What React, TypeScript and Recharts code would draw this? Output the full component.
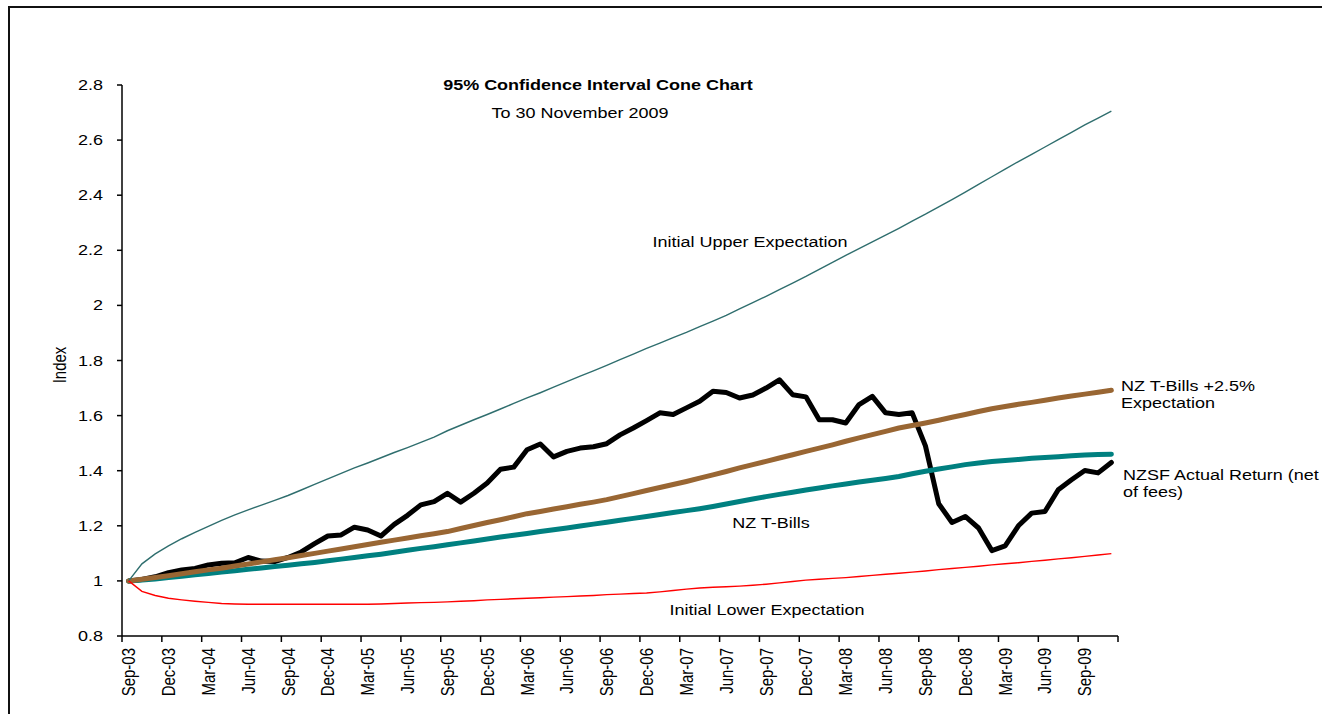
import { LineChart, Line, XAxis, YAxis } from "recharts";

const months = [
  "Sep-03", "Oct-03", "Nov-03", "Dec-03",
  "Jan-04", "Feb-04", "Mar-04", "Apr-04", "May-04", "Jun-04", "Jul-04", "Aug-04", "Sep-04", "Oct-04", "Nov-04", "Dec-04",
  "Jan-05", "Feb-05", "Mar-05", "Apr-05", "May-05", "Jun-05", "Jul-05", "Aug-05", "Sep-05", "Oct-05", "Nov-05", "Dec-05",
  "Jan-06", "Feb-06", "Mar-06", "Apr-06", "May-06", "Jun-06", "Jul-06", "Aug-06", "Sep-06", "Oct-06", "Nov-06", "Dec-06",
  "Jan-07", "Feb-07", "Mar-07", "Apr-07", "May-07", "Jun-07", "Jul-07", "Aug-07", "Sep-07", "Oct-07", "Nov-07", "Dec-07",
  "Jan-08", "Feb-08", "Mar-08", "Apr-08", "May-08", "Jun-08", "Jul-08", "Aug-08", "Sep-08", "Oct-08", "Nov-08", "Dec-08",
  "Jan-09", "Feb-09", "Mar-09", "Apr-09", "May-09", "Jun-09", "Jul-09", "Aug-09", "Sep-09", "Oct-09", "Nov-09",
];

// NZSF actual return (net of fees)
const actual = [
  1.0, 1.005, 1.015, 1.03, 1.04, 1.045, 1.058, 1.064, 1.066, 1.085,
  1.072, 1.07, 1.085, 1.105, 1.135, 1.163, 1.167, 1.195, 1.185, 1.163,
  1.205, 1.238, 1.276, 1.288, 1.318, 1.286, 1.318, 1.355, 1.405, 1.413,
  1.476, 1.497, 1.45, 1.47, 1.482, 1.487, 1.498, 1.53, 1.555, 1.582,
  1.61, 1.604, 1.628, 1.652, 1.688, 1.684, 1.664, 1.675, 1.7, 1.73,
  1.676, 1.668, 1.585, 1.585, 1.573, 1.64, 1.67, 1.61, 1.604, 1.61,
  1.49, 1.28, 1.212, 1.234, 1.192, 1.11, 1.127, 1.2, 1.246, 1.252,
  1.331, 1.367, 1.401, 1.392, 1.43,
];

// NZ T-Bills + 2.5%
const tbillsPlus = [
  1.0, 1.006, 1.012, 1.019, 1.026, 1.033, 1.04, 1.046, 1.054, 1.061,
  1.069, 1.077, 1.084, 1.092, 1.1, 1.108, 1.116, 1.124, 1.132, 1.14,
  1.148, 1.156, 1.164, 1.171, 1.179, 1.19, 1.201, 1.212, 1.222, 1.233,
  1.244, 1.252, 1.261, 1.269, 1.278, 1.286, 1.295, 1.306, 1.317, 1.328,
  1.339, 1.35, 1.361, 1.373, 1.385, 1.397, 1.41, 1.422, 1.434, 1.446,
  1.458, 1.47, 1.482, 1.494, 1.507, 1.519, 1.531, 1.543, 1.555, 1.564,
  1.573, 1.583, 1.594, 1.604, 1.615, 1.625, 1.633, 1.641, 1.648, 1.656,
  1.664, 1.671, 1.678, 1.685, 1.692,
];

// NZ T-Bills
const tbills = [
  1.0, 1.003, 1.007, 1.012, 1.017, 1.022, 1.027, 1.032, 1.037, 1.042,
  1.047, 1.052, 1.057, 1.062, 1.067, 1.073, 1.079, 1.085, 1.091, 1.097,
  1.104, 1.111, 1.118, 1.124, 1.131, 1.138, 1.145, 1.152, 1.159, 1.166,
  1.172, 1.179, 1.186, 1.192, 1.199, 1.206, 1.213, 1.22, 1.227, 1.234,
  1.241, 1.248, 1.255, 1.262, 1.27, 1.279, 1.288, 1.297, 1.306, 1.314,
  1.322, 1.33, 1.337, 1.345, 1.352, 1.359, 1.365, 1.372, 1.379, 1.389,
  1.398, 1.406, 1.414, 1.422, 1.428, 1.433, 1.437, 1.441, 1.445, 1.448,
  1.451, 1.454, 1.457, 1.459, 1.46,
];

// Initial upper expectation
const upper = [
  1.0, 1.062, 1.098, 1.127, 1.153, 1.176, 1.198, 1.22, 1.24, 1.258,
  1.275, 1.292, 1.31, 1.33, 1.35, 1.37, 1.39, 1.41, 1.428, 1.447,
  1.466, 1.484, 1.503, 1.522, 1.545, 1.565, 1.585, 1.604, 1.624, 1.644,
  1.664, 1.683, 1.703, 1.723, 1.743, 1.762, 1.782, 1.803, 1.823, 1.844,
  1.863, 1.883, 1.902, 1.923, 1.943, 1.964, 1.987, 2.01, 2.033, 2.057,
  2.081, 2.105, 2.131, 2.156, 2.182, 2.206, 2.231, 2.255, 2.28, 2.306,
  2.331, 2.358, 2.384, 2.411, 2.439, 2.467, 2.495, 2.522, 2.548, 2.575,
  2.602, 2.628, 2.655, 2.68, 2.705,
];

// Initial lower expectation
const lower = [
  1.0, 0.962, 0.947, 0.937, 0.931, 0.926, 0.922, 0.918, 0.916, 0.915,
  0.915, 0.915, 0.915, 0.915, 0.915, 0.915, 0.915, 0.915, 0.915, 0.916,
  0.918, 0.92, 0.921, 0.922, 0.924, 0.926, 0.928, 0.931, 0.933, 0.935,
  0.937, 0.939, 0.941, 0.943, 0.945, 0.947, 0.95, 0.952, 0.954, 0.956,
  0.96, 0.965, 0.97, 0.974, 0.977, 0.979, 0.981, 0.984, 0.988, 0.993,
  0.998, 1.003, 1.006, 1.009, 1.012, 1.016, 1.02, 1.024, 1.028, 1.032,
  1.036, 1.041, 1.045, 1.049, 1.053, 1.058, 1.062, 1.066, 1.071, 1.075,
  1.08, 1.084, 1.089, 1.094, 1.099,
];

const yTicks = [0.8, 1, 1.2, 1.4, 1.6, 1.8, 2, 2.2, 2.4, 2.6, 2.8];

const data = months.map((month, i) => ({
  month,
  actual: actual[i],
  tbillsPlus: tbillsPlus[i],
  tbills: tbills[i],
  upper: upper[i],
  lower: lower[i],
}));

const W = 1322;
const H = 714;
const PLOT = { left: 122, right: 1118, top: 85, bottom: 636 };
const Y_AXIS_W = 40;
const X_AXIS_H = 60;
const BAND = (PLOT.right - PLOT.left) / months.length;
const LAST_LABEL = months[Math.floor((months.length - 1) / 3) * 3];

const FONT = '"Liberation Sans", Arial, sans-serif';
const STRETCH = 1.2; // the source text is drawn a bit wide

function YTick({ x, y, payload }: any) {
  return (
    <text
      transform={`translate(${x},${y + 5}) scale(${STRETCH},1)`}
      textAnchor="end"
      fontSize={15}
      fontFamily={FONT}
      fill="#000"
    >
      {payload.value}
    </text>
  );
}

function XTick({ x, payload }: any) {
  const axisY = PLOT.bottom;
  const tx = x - BAND / 2;
  return (
    <g>
      <line x1={tx} x2={tx} y1={axisY} y2={axisY + 6} stroke="#000" strokeWidth={1.5} />
      {payload.value === LAST_LABEL && (
        <line x1={tx + BAND * 3} x2={tx + BAND * 3} y1={axisY} y2={axisY + 6} stroke="#000" strokeWidth={1.5} />
      )}
      <text
        transform={`translate(${x + 6.5},${axisY + 12}) scale(${STRETCH},1) rotate(-90)`}
        textAnchor="end"
        fontSize={15}
        fontFamily={FONT}
        fill="#000"
      >
        {payload.value}
      </text>
    </g>
  );
}

const notes = [
  { text: "95% Confidence Interval Cone Chart", x: 598, y: 90, anchor: "middle", bold: true },
  { text: "To 30 November 2009", x: 580, y: 118, anchor: "middle" },
  { text: "Initial Upper Expectation", x: 750, y: 247, anchor: "middle" },
  { text: "NZ T-Bills +2.5%", x: 1121, y: 391, anchor: "start" },
  { text: "Expectation", x: 1121, y: 408, anchor: "start" },
  { text: "NZSF Actual Return (net", x: 1123, y: 480, anchor: "start" },
  { text: "of fees)", x: 1123, y: 497, anchor: "start" },
  { text: "NZ T-Bills", x: 771, y: 528, anchor: "middle" },
  { text: "Initial Lower Expectation", x: 767, y: 615, anchor: "middle" },
];

export default function App() {
  return (
    <div style={{ position: "absolute", left: 0, top: 0, width: W, height: H, background: "#fff" }}>
      <div
        style={{
          position: "absolute",
          left: 8,
          top: 6,
          width: W - 8,
          height: H - 6,
          borderLeft: "2px solid #111",
          borderTop: "2px solid #111",
          boxSizing: "border-box",
        }}
      />
      <div style={{ position: "absolute", left: 0, top: 0 }}>
        <LineChart
          width={W}
          height={H}
          data={data}
          margin={{
            top: PLOT.top,
            right: W - PLOT.right,
            bottom: H - PLOT.bottom - X_AXIS_H,
            left: PLOT.left - Y_AXIS_W,
          }}
        >
          <XAxis
            dataKey="month"
            scale="band"
            interval={2}
            tickLine={false}
            tickSize={6}
            tickMargin={2}
            height={X_AXIS_H}
            axisLine={{ stroke: "#000", strokeWidth: 1.5 }}
            tick={<XTick />}
          />
          <YAxis
            type="number"
            domain={[0.8, 2.8]}
            ticks={yTicks}
            width={Y_AXIS_W}
            tickSize={5}
            tickMargin={14}
            axisLine={{ stroke: "#000", strokeWidth: 1.5 }}
            tickLine={{ stroke: "#000", strokeWidth: 1.5 }}
            tick={<YTick />}
          />
          <Line
            dataKey="actual"
            type="linear"
            stroke="#000000"
            strokeWidth={5}
            strokeLinejoin="round"
            strokeLinecap="round"
            dot={false}
            activeDot={false}
            isAnimationActive={false}
          />
          <Line
            dataKey="tbills"
            type="linear"
            stroke="#008080"
            strokeWidth={5}
            strokeLinejoin="round"
            strokeLinecap="round"
            dot={false}
            activeDot={false}
            isAnimationActive={false}
          />
          <Line
            dataKey="tbillsPlus"
            type="linear"
            stroke="#996633"
            strokeWidth={5}
            strokeLinejoin="round"
            strokeLinecap="round"
            dot={false}
            activeDot={false}
            isAnimationActive={false}
          />
          <Line
            dataKey="upper"
            type="linear"
            stroke="#2F6E6E"
            strokeWidth={1.4}
            dot={false}
            activeDot={false}
            isAnimationActive={false}
          />
          <Line
            dataKey="lower"
            type="linear"
            stroke="#FF0000"
            strokeWidth={1.4}
            dot={false}
            activeDot={false}
            isAnimationActive={false}
          />
        </LineChart>
      </div>
      <svg
        width={W}
        height={H}
        style={{ position: "absolute", left: 0, top: 0, pointerEvents: "none" }}
      >
        <text
          transform={`translate(66,365) scale(${STRETCH},1) rotate(-90)`}
          textAnchor="middle"
          fontSize={15}
          fontFamily={FONT}
          fill="#000"
        >
          Index
        </text>
        {notes.map((n) => (
          <text
            key={n.text}
            transform={`translate(${n.x},${n.y}) scale(${STRETCH},1)`}
            textAnchor={n.anchor as any}
            fontSize={15}
            fontWeight={n.bold ? "bold" : "normal"}
            fontFamily={FONT}
            fill="#000"
          >
            {n.text}
          </text>
        ))}
      </svg>
    </div>
  );
}
